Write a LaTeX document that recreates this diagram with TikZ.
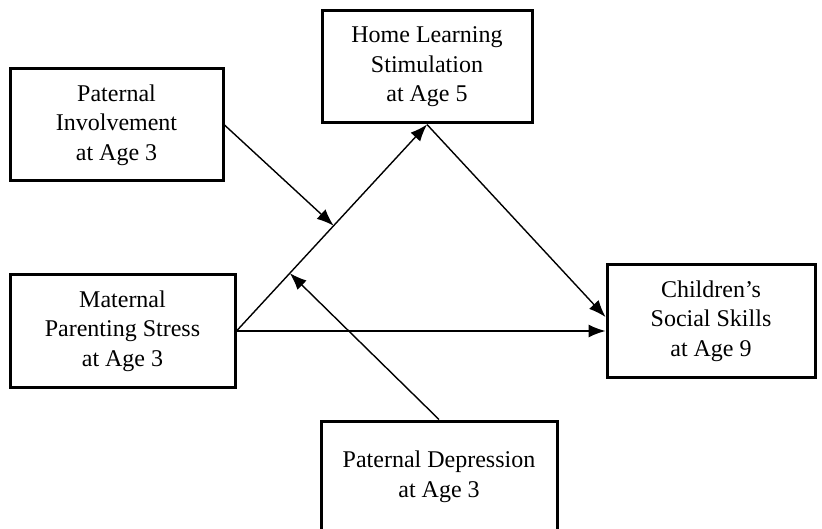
\documentclass[tikz,border=0pt]{standalone}
\usepackage{fontspec}
\setmainfont{Liberation Serif}
\usetikzlibrary{arrows.meta,calc,positioning}
\tikzset{
  varbox/.style={draw, line width=3pt, align=center, inner sep=0pt,
    minimum height=112pt, font=\fontsize{24}{29.5}\selectfont},
  effect/.style={line width=1.4pt, -{Latex[length=17pt,width=13pt]}}
}

\begin{document}
\begin{tikzpicture}[x=1pt,y=-1pt]
  \clip (0,0) rectangle (822,529);
  % variables
  \node[varbox, minimum width=213pt] (invol) at (116.5,125) {Paternal\\Involvement\\at Age 3};
  \node[varbox, minimum width=210pt] (homel) at (427,67) {Home Learning\\Stimulation\\at Age 5};
  \node[varbox, minimum width=225pt] (mstress) at (122.5,331) {Maternal\\Parenting Stress\\at Age 3};
  \node[varbox, minimum width=208pt] (social) at (711,321) {Children's\\Social Skills\\at Age 9};
  \node[varbox, minimum width=236pt] (pdep) at (439,477) {Paternal Depression\\at Age 3};
  % moderation points on the a-path
  \coordinate (modI) at ($(mstress.east)!0.51!(homel.south)$);
  \coordinate (modD) at ($(mstress.east)!0.28!(homel.south)$);
  % paths
  \draw[effect] (mstress.east) -- (homel.south);
  \draw[effect] (homel.south) -- ([yshift=4pt]social.west);
  \draw[effect] (mstress.east) -- (social.west |- mstress.east);
  \draw[effect] (invol.east) -- (modI);
  \draw[effect] (pdep.north) -- (modD);
\end{tikzpicture}
\end{document}
